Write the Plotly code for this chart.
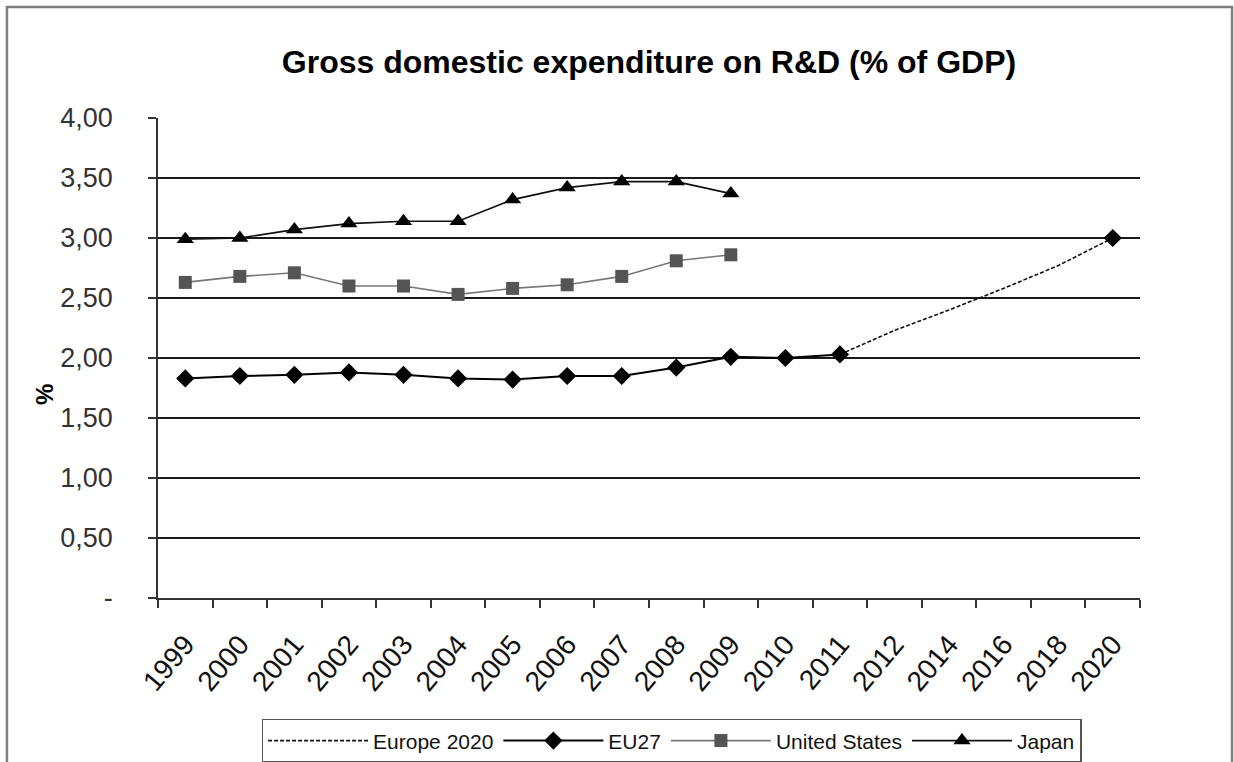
import plotly.graph_objects as go

# Category axis: yearly to 2012, then every other year to the 2020 target
years = ["1999", "2000", "2001", "2002", "2003", "2004", "2005", "2006", "2007",
         "2008", "2009", "2010", "2011", "2012", "2014", "2016", "2018", "2020"]

eu27 = [1.83, 1.85, 1.86, 1.88, 1.86, 1.83, 1.82, 1.85, 1.85, 1.92, 2.01, 2.00, 2.03,
        None, None, None, None, 3.00]
united_states = [2.63, 2.68, 2.71, 2.60, 2.60, 2.53, 2.58, 2.61, 2.68, 2.81, 2.86]
japan = [2.99, 3.00, 3.07, 3.12, 3.14, 3.14, 3.32, 3.42, 3.47, 3.47, 3.37]
# Path towards the Europe 2020 target of 3 %
europe_2020 = [None] * 12 + [2.03, 2.23, 2.40, 2.58, 2.77, 3.00]

y_ticks = [0, 0.5, 1.0, 1.5, 2.0, 2.5, 3.0, 3.5, 4.0]
y_tick_text = ["-", "0,50", "1,00", "1,50", "2,00", "2,50", "3,00", "3,50", "4,00"]

FONT = "Liberation Sans, Arial, sans-serif"

fig = go.Figure()

fig.add_trace(go.Scatter(
    x=years, y=europe_2020, name="Europe 2020", mode="lines",
    connectgaps=True,
    line=dict(color="#111111", width=1.6, dash="4px,2px"),
))
fig.add_trace(go.Scatter(
    x=years, y=eu27, name="EU27", mode="lines+markers",
    connectgaps=False,
    line=dict(color="#000000", width=2),
    marker=dict(symbol="diamond", size=14, color="#000000"),
))
fig.add_trace(go.Scatter(
    x=years[:len(united_states)], y=united_states, name="United States",
    mode="lines+markers",
    line=dict(color="#777777", width=1.6),
    marker=dict(symbol="square", size=13, color="#555555"),
))
fig.add_trace(go.Scatter(
    x=years[:len(japan)], y=japan, name="Japan", mode="lines+markers",
    line=dict(color="#111111", width=1.6),
    marker=dict(symbol="triangle-up", size=15, color="#000000"),
))

# Outer chart frame
fig.add_shape(type="rect", xref="paper", yref="paper",
              x0=-0.1538, x1=1.0937, y0=-0.36, y1=1.2313,
              line=dict(color="#808080", width=2.5), layer="below")

# Axis title placed beside the value labels
fig.add_annotation(text="<b>%</b>", xref="paper", yref="paper",
                   x=-0.115, y=0.423, xanchor="center", yanchor="middle",
                   textangle=-90, showarrow=False,
                   font=dict(size=24, color="#000000", family=FONT))

fig.update_layout(
    width=1234, height=762,
    margin=dict(l=158, r=94, t=118, b=164, autoexpand=False),
    paper_bgcolor="white", plot_bgcolor="white",
    font=dict(family=FONT, color="#222222"),
    title=dict(text="<b>Gross domestic expenditure on R&D (% of GDP)</b>",
               x=0.5, xref="paper", xanchor="center",
               y=1 - 62 / 762, yref="container", yanchor="middle",
               font=dict(size=32, color="#000000", family=FONT)),
    showlegend=True,
    legend=dict(orientation="h", x=0.523, xanchor="center",
                y=-0.252, yanchor="top",
                bordercolor="#555555", borderwidth=1.5,
                bgcolor="white",
                font=dict(size=21, color="#111111", family=FONT),
                itemwidth=100, tracegroupgap=0),
)

fig.update_xaxes(
    type="category", categoryorder="array", categoryarray=years,
    range=[-0.5, len(years) - 0.5],
    tickson="boundaries", ticks="outside", ticklen=8, tickwidth=1.5,
    tickcolor="#333333",
    showline=True, linecolor="#333333", linewidth=1.5,
    showgrid=False, zeroline=False, automargin=False,
    tickangle=-50, ticklabelstandoff=17,
    tickfont=dict(size=28, color="#111111", family=FONT),
)

fig.update_yaxes(
    range=[0, 4.0], tickvals=y_ticks, ticktext=y_tick_text,
    ticks="outside", ticklen=8, tickwidth=1.5, tickcolor="#333333",
    showline=True, linecolor="#333333", linewidth=1.5,
    showgrid=True, gridcolor="#1a1a1a", gridwidth=1.5,
    zeroline=False, automargin=False, ticklabelstandoff=30,
    tickfont=dict(size=27, color="#333333", family=FONT),
)

fig.write_html("out.html")
